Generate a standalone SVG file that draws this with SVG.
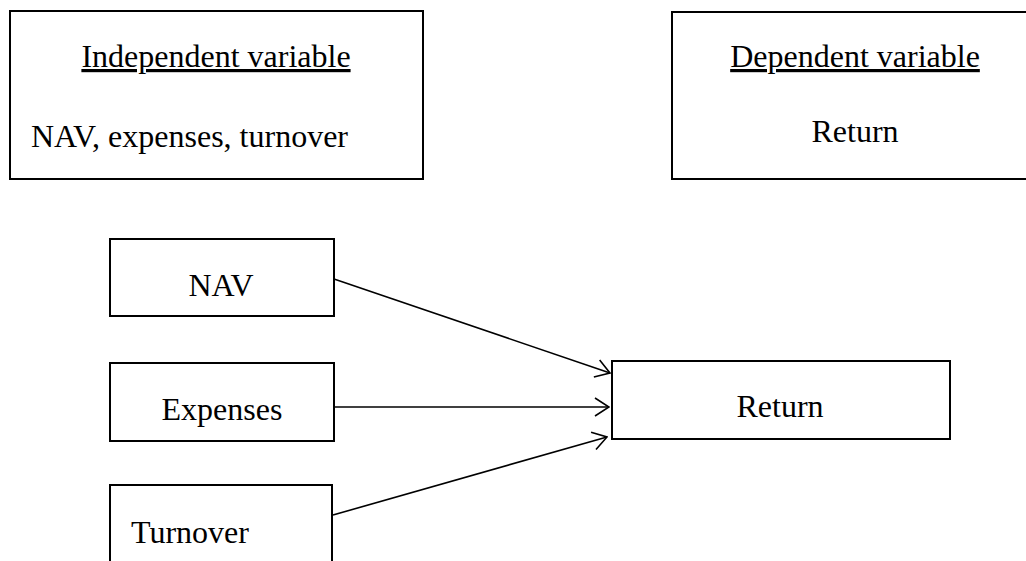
<svg xmlns="http://www.w3.org/2000/svg" width="1026" height="561" viewBox="0 0 1026 561">
<defs>
<style>
.box{fill:#fff;stroke:#000;stroke-width:2}
.t{font-family:"Liberation Serif","Times New Roman",serif;font-size:32px;fill:#000}
.c{text-anchor:middle}
.u{text-decoration:underline}
.ln{stroke:#000;stroke-width:1.6;fill:none}
</style>
<marker id="arr" viewBox="0 0 16 20" refX="15" refY="10" markerWidth="16" markerHeight="20" markerUnits="userSpaceOnUse" orient="auto">
<path d="M1,1 L15,10 L1,19" fill="none" stroke="#000" stroke-width="1.6"/>
</marker>
</defs>
<rect width="1026" height="561" fill="#fff"/>
<g id="independent">
<rect class="box" x="10" y="11" width="413" height="168"/>
<text class="t c u" x="216" y="67">Independent variable</text>
<text class="t" x="31" y="147">NAV, expenses, turnover</text>
</g>
<g id="dependent">
<rect class="box" x="672" y="12" width="400" height="167"/>
<text class="t c u" x="855" y="67">Dependent variable</text>
<text class="t c" x="855" y="142">Return</text>
</g>
<g id="nav">
<rect class="box" x="110" y="239" width="224" height="77"/>
<text class="t c" x="221" y="296">NAV</text>
</g>
<g id="expenses">
<rect class="box" x="110" y="363" width="224" height="78"/>
<text class="t c" x="222" y="420">Expenses</text>
</g>
<g id="turnover">
<rect class="box" x="110" y="485" width="222" height="90"/>
<text class="t" x="131" y="543">Turnover</text>
</g>
<g id="return">
<rect class="box" x="612" y="361" width="338" height="78"/>
<text class="t c" x="780" y="417">Return</text>
</g>
<g id="connectors">
<line class="ln" x1="334" y1="279" x2="610" y2="373" marker-end="url(#arr)"/>
<line class="ln" x1="333" y1="407" x2="609" y2="407" marker-end="url(#arr)"/>
<line class="ln" x1="333" y1="515" x2="607" y2="437" marker-end="url(#arr)"/>
</g>
</svg>
